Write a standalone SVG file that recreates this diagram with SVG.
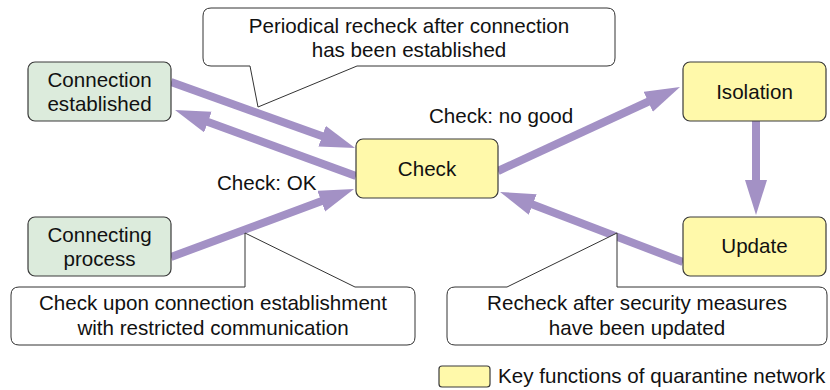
<svg xmlns="http://www.w3.org/2000/svg" width="830" height="390" viewBox="0 0 830 390">
  <defs>
    <marker id="head" markerUnits="userSpaceOnUse" markerWidth="36" markerHeight="24" refX="10" refY="11" orient="auto">
      <path d="M0,0 L35,11 L0,22 Z" fill="#a391c5"/>
    </marker>
  </defs>
  <style>
    text { font-family: "Liberation Sans", Arial, sans-serif; font-size: 20.6px; fill: #111; }
    .c { text-anchor: middle; }
    .green { fill: #dcebdc; stroke: #3a3a3a; stroke-width: 1.2; }
    .yellow { fill: #fff9aa; stroke: #3a3a3a; stroke-width: 1.2; }
    .callout { fill: #fff; stroke: #333; stroke-width: 1; }
    .arrow { stroke: #a391c5; stroke-width: 8; fill: none; marker-end: url(#head); }
  </style>

  <!-- flow connectors -->
  <g id="connectors">
    <line class="arrow" x1="171" y1="82" x2="331.5" y2="139.6"/>
    <line class="arrow" x1="356" y1="176" x2="198.5" y2="118.6"/>
    <line class="arrow" x1="171" y1="257" x2="330.6" y2="197.7"/>
    <line class="arrow" x1="498" y1="171" x2="657.3" y2="97.5"/>
    <line class="arrow" x1="756" y1="121" x2="756" y2="190"/>
    <line class="arrow" x1="683" y1="262" x2="523.4" y2="200.9"/>
  </g>

  <g id="connection-established">
    <rect class="green" x="28" y="62" width="143" height="59" rx="7"/>
    <text class="c" x="99.5" y="87">Connection</text>
    <text class="c" x="99.5" y="111">established</text>
  </g>

  <g id="connecting-process">
    <rect class="green" x="28" y="217" width="143" height="59" rx="7"/>
    <text class="c" x="99.5" y="242">Connecting</text>
    <text class="c" x="99.5" y="266">process</text>
  </g>

  <g id="check">
    <rect class="yellow" x="356" y="139" width="142" height="59" rx="7"/>
    <text class="c" x="427" y="176">Check</text>
  </g>

  <g id="isolation">
    <rect class="yellow" x="683" y="62" width="143" height="59" rx="7"/>
    <text class="c" x="754.5" y="99">Isolation</text>
  </g>

  <g id="update">
    <rect class="yellow" x="683" y="217" width="143" height="59" rx="7"/>
    <text class="c" x="754.5" y="253">Update</text>
  </g>

  <!-- edge labels -->
  <g id="labels">
    <text x="429" y="123">Check: no good</text>
    <text x="217" y="190">Check: OK</text>
  </g>

  <!-- callouts -->
  <g id="callout-periodical">
    <path class="callout" d="M211,8 H607 Q615,8 615,16 V58 Q615,66 607,66 H357 L258,107 L250,66 H211 Q203,66 203,58 V16 Q203,8 211,8 Z"/>
    <text class="c" x="409" y="33">Periodical recheck after connection</text>
    <text class="c" x="409" y="57">has been established</text>
  </g>

  <g id="callout-upon-connection">
    <path class="callout" d="M19,287 H245 V233 L355,287 H407 Q415,287 415,295 V337 Q415,345 407,345 H19 Q11,345 11,337 V295 Q11,287 19,287 Z"/>
    <text class="c" x="213" y="310">Check upon connection establishment</text>
    <text class="c" x="213" y="335">with restricted communication</text>
  </g>

  <g id="callout-recheck">
    <path class="callout" d="M455,287 H507 L617,233 V287 H819 Q827,287 827,295 V337 Q827,345 819,345 H455 Q447,345 447,337 V295 Q447,287 455,287 Z"/>
    <text class="c" x="637" y="310">Recheck after security measures</text>
    <text class="c" x="637" y="335">have been updated</text>
  </g>

  <g id="legend">
    <rect class="yellow" x="439" y="366" width="51" height="21" rx="3"/>
    <text x="498" y="383">Key functions of quarantine network</text>
  </g>
</svg>
